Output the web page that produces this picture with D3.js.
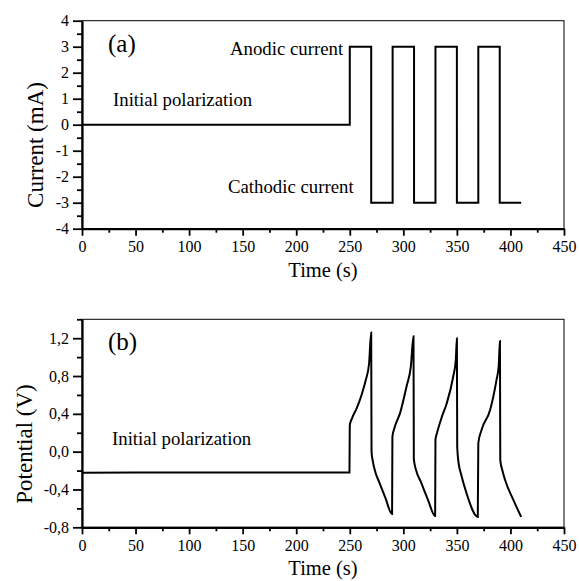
<!DOCTYPE html>
<html>
<head>
<meta charset="utf-8">
<script src="https://cdn.jsdelivr.net/npm/d3@7"></script>
</head>
<body style="margin:0">
<script>
var width = 579;
var height = 581;

// values
var xTicks = [0, 50, 100, 150, 200, 250, 300, 350, 400, 450];
var currentTicks = [-4, -3, -2, -1, 0, 1, 2, 3, 4];
var potentialTicks = [-0.8, -0.4, 0, 0.4, 0.8, 1.2];

// current step program: [time s, current mA]
var currentData = [
  [0, 0], [250, 0], [250, 3], [270, 3], [270, -3], [290, -3],
  [290, 3], [310, 3], [310, -3], [330, -3], [330, 3], [350, 3],
  [350, -3], [370, -3], [370, 3], [390, 3], [390, -3], [410, -3]
];

// potential response: [time s, potential V]
var potentialData = [
  [0, -0.222], [100, -0.221], [200, -0.22], [249.7, -0.22],
  [250, 0.28], [252, 0.35], [256.5, 0.46], [261, 0.6], [265, 0.76], [268, 0.93], [270, 1.26],
  [270.3, 0.0], [271.5, -0.1], [274, -0.22], [277, -0.31], [283, -0.48], [289.5, -0.66],
  [289.8, 0.16], [292, 0.26], [297, 0.41], [303, 0.69], [307, 0.9], [309.5, 1.22],
  [309.8, -0.08], [312, -0.2], [316, -0.31], [323, -0.51], [329.7, -0.68],
  [330, 0.13], [331.5, 0.2], [336, 0.37], [340.5, 0.51], [346.5, 0.79], [349, 0.97], [350, 1.2],
  [350.3, 0.05], [352, -0.15], [353.5, -0.22], [359, -0.44], [369.5, -0.69],
  [370, 0.09], [373, 0.23], [381, 0.44], [387, 0.76], [389, 0.9], [390.2, 1.17],
  [390.5, -0.09], [392.5, -0.2], [395, -0.3], [402.7, -0.51], [410, -0.69]
];

var svg = d3.select("body")
  .append("svg")
  .attr("width", width)
  .attr("height", height)
  .style("display", "block");

var left = 82, right = 564;
var serif = "Liberation Serif";

var x = d3.scaleLinear().domain([0, 450]).range([left, right]);

function range(a, b, step) {
  var out = [];
  for (var v = a; v <= b + 1e-9; v += step) out.push(Math.round(v * 1000) / 1000);
  return out;
}

function label(g, px, py, size, str) {
  return g.append("text")
    .attr("x", px).attr("y", py)
    .attr("font-family", serif)
    .attr("font-size", size)
    .style("font-family", serif)
    .attr("fill", "#000")
    .text(str);
}

function drawPanel(opt) {
  var g = svg.append("g");
  var y = d3.scaleLinear().domain(opt.yDomain).range([opt.bottom, opt.top]);

  // thin frame
  g.append("rect")
    .attr("x", left).attr("y", opt.top)
    .attr("width", right - left).attr("height", opt.bottom - opt.top)
    .attr("fill", "none").attr("stroke", "#000").attr("stroke-width", 1);

  // minor ticks
  g.append("g")
    .attr("transform", "translate(0," + opt.bottom + ")")
    .call(d3.axisBottom(x).tickValues(range(25, 425, 50)).tickSize(4).tickFormat(""))
    .call(function (s) { s.select(".domain").remove(); s.selectAll("line").attr("stroke-width", 1.8); });
  g.append("g")
    .attr("transform", "translate(" + left + ",0)")
    .call(d3.axisLeft(y).tickValues(opt.minor).tickSize(5).tickFormat(""))
    .call(function (s) { s.select(".domain").remove(); s.selectAll("line").attr("stroke-width", 1.8); });

  // major ticks
  var xa = g.append("g")
    .attr("transform", "translate(0," + opt.bottom + ")")
    .call(d3.axisBottom(x).tickValues(xTicks).tickSize(7).tickSizeOuter(0).tickPadding(5)
      .tickFormat(function (d) { return String(d); }));
  xa.attr("font-family", serif).attr("font-size", 16);
  xa.select(".domain").attr("stroke-width", 2.2);
  xa.selectAll("line").attr("stroke-width", 1.8);
  xa.selectAll("text").attr("font-family", serif).style("font-family", serif);

  var ya = g.append("g")
    .attr("transform", "translate(" + left + ",0)")
    .call(d3.axisLeft(y).tickValues(opt.major).tickSize(9).tickSizeOuter(0).tickPadding(4)
      .tickFormat(opt.fmt));
  ya.attr("font-family", serif).attr("font-size", 16);
  ya.select(".domain").attr("stroke-width", 2.2);
  ya.selectAll("line").attr("stroke-width", 1.8);
  ya.selectAll("text").attr("font-family", serif).style("font-family", serif);

  // data
  var line = d3.line()
    .curve(d3.curveMonotoneX)
    .x(function (d) { return x(d[0]); })
    .y(function (d) { return y(d[1]); });
  g.append("path")
    .datum(opt.data)
    .attr("d", line)
    .attr("fill", "none")
    .attr("stroke", "#000")
    .attr("stroke-width", 2)
    .attr("stroke-linejoin", "miter");

  // titles
  label(g, (left + right) / 2, opt.bottom + 48, 20.5, "Time (s)")
    .attr("text-anchor", "middle");
  label(g, 0, 0, 23, opt.yTitle)
    .attr("transform", "translate(" + opt.yTitleX + "," + opt.yTitleY + ") rotate(-90)")
    .attr("text-anchor", "middle");

  label(g, 108, opt.top + 31, 25, opt.tag);

  opt.notes.forEach(function (n) {
    label(g, n.x, n.y, 18.8, n.text);
  });
}

drawPanel({
  top: 20.7,
  bottom: 228.7,
  yDomain: [-4, 4],
  major: currentTicks,
  minor: range(-3.5, 3.5, 1),
  fmt: function (d) { return String(d); },
  data: currentData,
  yTitle: "Current (mA)",
  yTitleX: 43,
  yTitleY: 145,
  tag: "(a)",
  notes: [
    { x: 113, y: 106, text: "Initial polarization" },
    { x: 230, y: 55, text: "Anodic current" },
    { x: 228, y: 193, text: "Cathodic current" }
  ]
});

drawPanel({
  top: 319.3,
  bottom: 527.3,
  yDomain: [-0.8, 1.4],
  major: potentialTicks,
  minor: range(-0.6, 1.4, 0.4),
  fmt: function (d) { return d.toFixed(1).replace(".", ","); },
  data: potentialData,
  yTitle: "Potential (V)",
  yTitleX: 32,
  yTitleY: 444,
  tag: "(b)",
  notes: [
    { x: 112, y: 445, text: "Initial polarization" }
  ]
});
</script>
</body>
</html>
